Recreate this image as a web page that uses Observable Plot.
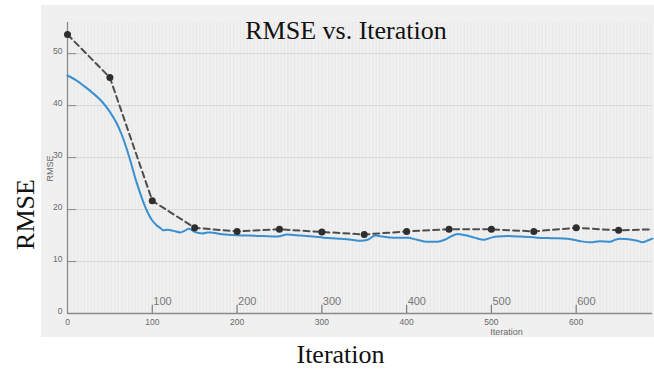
<!DOCTYPE html>
<html>
<head>
<meta charset="utf-8">
<script src="https://cdn.jsdelivr.net/npm/d3@7"></script>
<script src="https://cdn.jsdelivr.net/npm/@observablehq/plot@0.6"></script>
<style>
  html, body { margin: 0; padding: 0; background: #ffffff; }
  #wrap { position: relative; width: 654px; height: 369px; overflow: hidden; }
  #panel { position: absolute; left: 41px; top: 5px; width: 613px; height: 332px; background: #f0f0f0; }
  #chart { position: absolute; left: 0; top: 0; }
</style>
</head>
<body>
<div id="wrap"><div id="panel"></div><div id="chart"></div></div>
<script>
// ---- data ----
const trainIter = [0, 10, 20, 30, 40, 50, 58, 64, 70, 75, 80, 85, 90, 95, 100, 105, 110, 113, 118, 125, 133, 138, 143, 150, 159, 165, 169, 180, 195, 212, 230, 248, 259, 275, 290, 302, 320, 335, 346, 354, 363, 372, 384, 401, 412, 424, 436, 445, 452, 460, 468, 480, 491, 500, 507, 520, 534, 554, 570, 590, 605, 617, 628, 640, 646, 652, 662, 672, 678, 685, 690];
const trainRmse = [45.8, 44.9, 43.7, 42.4, 40.9, 38.8, 36.6, 34.4, 31.6, 28.9, 26.0, 23.5, 21.2, 19.3, 17.9, 17.0, 16.4, 16.0, 16.1, 15.9, 15.6, 15.9, 16.3, 15.7, 15.4, 15.6, 15.6, 15.3, 15.1, 15.0, 14.9, 14.8, 15.2, 15.0, 14.8, 14.6, 14.4, 14.2, 14.0, 14.2, 15.0, 14.8, 14.6, 14.6, 14.2, 13.8, 13.8, 14.2, 14.8, 15.3, 15.1, 14.6, 14.2, 14.6, 14.8, 14.9, 14.8, 14.6, 14.5, 14.4, 13.9, 13.7, 13.9, 13.8, 14.2, 14.4, 14.3, 14.0, 13.7, 14.1, 14.4];

const valIter = [0, 50, 100, 150, 200, 250, 300, 350, 400, 450, 500, 550, 600, 650, 690];
const valRmse = [53.7, 45.4, 21.7, 16.5, 15.8, 16.2, 15.7, 15.2, 15.8, 16.2, 16.2, 15.8, 16.5, 16.0, 16.2];
const valMarkerIter = [0, 50, 100, 150, 200, 250, 300, 350, 400, 450, 500, 550, 600, 650];

const xTicks = [0, 100, 200, 300, 400, 500, 600];
const yTicks = [0, 10, 20, 30, 40, 50];
const annotTicks = [100, 200, 300, 400, 500, 600];

const titleText = "RMSE vs. Iteration";
const yLabelBig = "RMSE";
const xLabelBig = "Iteration";
const yLabelSmall = "RMSE";
const xLabelSmall = "Iteration";

const train = trainIter.map((x, i) => ({x, y: trainRmse[i]}));
const val = valIter.map((x, i) => ({x, y: valRmse[i]}));
const valMarkers = val.filter(d => valMarkerIter.includes(d.x));
const vGrid = d3.range(0, 691, 4);

const serif = "'Liberation Serif', 'Times New Roman', serif";
const sans = "'Liberation Sans', Arial, sans-serif";

const chart = Plot.plot({
  width: 654,
  height: 369,
  marginLeft: 67,
  marginRight: 2,
  marginTop: 22,
  marginBottom: 56,
  style: {background: "transparent", overflow: "visible"},
  x: {domain: [0, 690], axis: null},
  y: {domain: [0, 56], axis: null},
  marks: [
    // fine vertical grid
    Plot.ruleX(vGrid, {x: d => d, y1: 0, y2: 56, stroke: "#e6e6e6", strokeWidth: 0.8}),
    // horizontal grid
    Plot.ruleY(yTicks.filter(d => d > 0), {y: d => d, x1: 0, x2: 690, stroke: "#d8d8d8", strokeWidth: 1}),
    // axis lines
    Plot.ruleX([0], {y1: 0, y2: 56, stroke: "#8a8a8a", strokeWidth: 1.3}),
    Plot.ruleY([0], {x1: 0, x2: 690, stroke: "#8a8a8a", strokeWidth: 1.3}),
    // inward y ticks
    Plot.ruleY(yTicks, {y: d => d, x1: 0, x2: 11, stroke: "#8a8a8a", strokeWidth: 1}),
    // small tick labels
    Plot.text(yTicks, {x: 0, y: d => d, text: d => String(d), textAnchor: "end", lineAnchor: "middle", dx: -5, dy: -2, fontSize: 8.5, fill: "#6a6a6a", fontFamily: sans}),
    Plot.text(xTicks, {x: d => d, y: 0, text: d => String(d), textAnchor: "middle", lineAnchor: "middle", dy: 9, fontSize: 8.5, fill: "#6a6a6a", fontFamily: sans}),
    // annotation ticks with labels above axis
    Plot.ruleX(annotTicks, {x: d => d, y1: 0, y2: 1.6, stroke: "#7a7a7a", strokeWidth: 1.2}),
    Plot.text(annotTicks, {x: d => d, y: 0, text: d => String(d), textAnchor: "start", lineAnchor: "middle", dx: 1, dy: -12.5, fontSize: 11, fill: "#777777", fontFamily: sans}),
    // training curve
    Plot.line(train, {x: "x", y: "y", stroke: "#3a8fd1", strokeWidth: 2, curve: "monotone-x"}),
    // validation curve
    Plot.line(val, {x: "x", y: "y", stroke: "#4d4d4d", strokeWidth: 2, strokeDasharray: "6,4"}),
    Plot.dot(valMarkers, {x: "x", y: "y", r: 3.5, fill: "#2e2e2e", stroke: "none"}),
    // small axis labels
    Plot.text([yLabelSmall], {frameAnchor: "left", text: d => d, rotate: -90, textAnchor: "middle", lineAnchor: "middle", dx: -17, dy: 0.5, fontSize: 9, fill: "#6a6a6a", fontFamily: sans}),
    Plot.text([xLabelSmall], {frameAnchor: "bottom", text: d => d, textAnchor: "middle", lineAnchor: "middle", dx: 146.5, dy: 18.5, fontSize: 9, fill: "#6a6a6a", fontFamily: sans}),
    // big overlay labels
    Plot.text([titleText], {frameAnchor: "top", text: d => d, textAnchor: "middle", lineAnchor: "middle", dx: -14, dy: 7.7, fontSize: 26, fill: "#111", fontFamily: serif}),
    Plot.text([yLabelBig], {frameAnchor: "left", text: d => d, rotate: -90, textAnchor: "middle", lineAnchor: "middle", dx: -42.3, dy: 46.5, fontSize: 26, fill: "#111", fontFamily: serif}),
    Plot.text([xLabelBig], {frameAnchor: "bottom", text: d => d, textAnchor: "middle", lineAnchor: "middle", dx: -19.5, dy: 40.7, fontSize: 26, fill: "#111", fontFamily: serif})
  ]
});
document.getElementById("chart").appendChild(chart);
</script>
</body>
</html>
